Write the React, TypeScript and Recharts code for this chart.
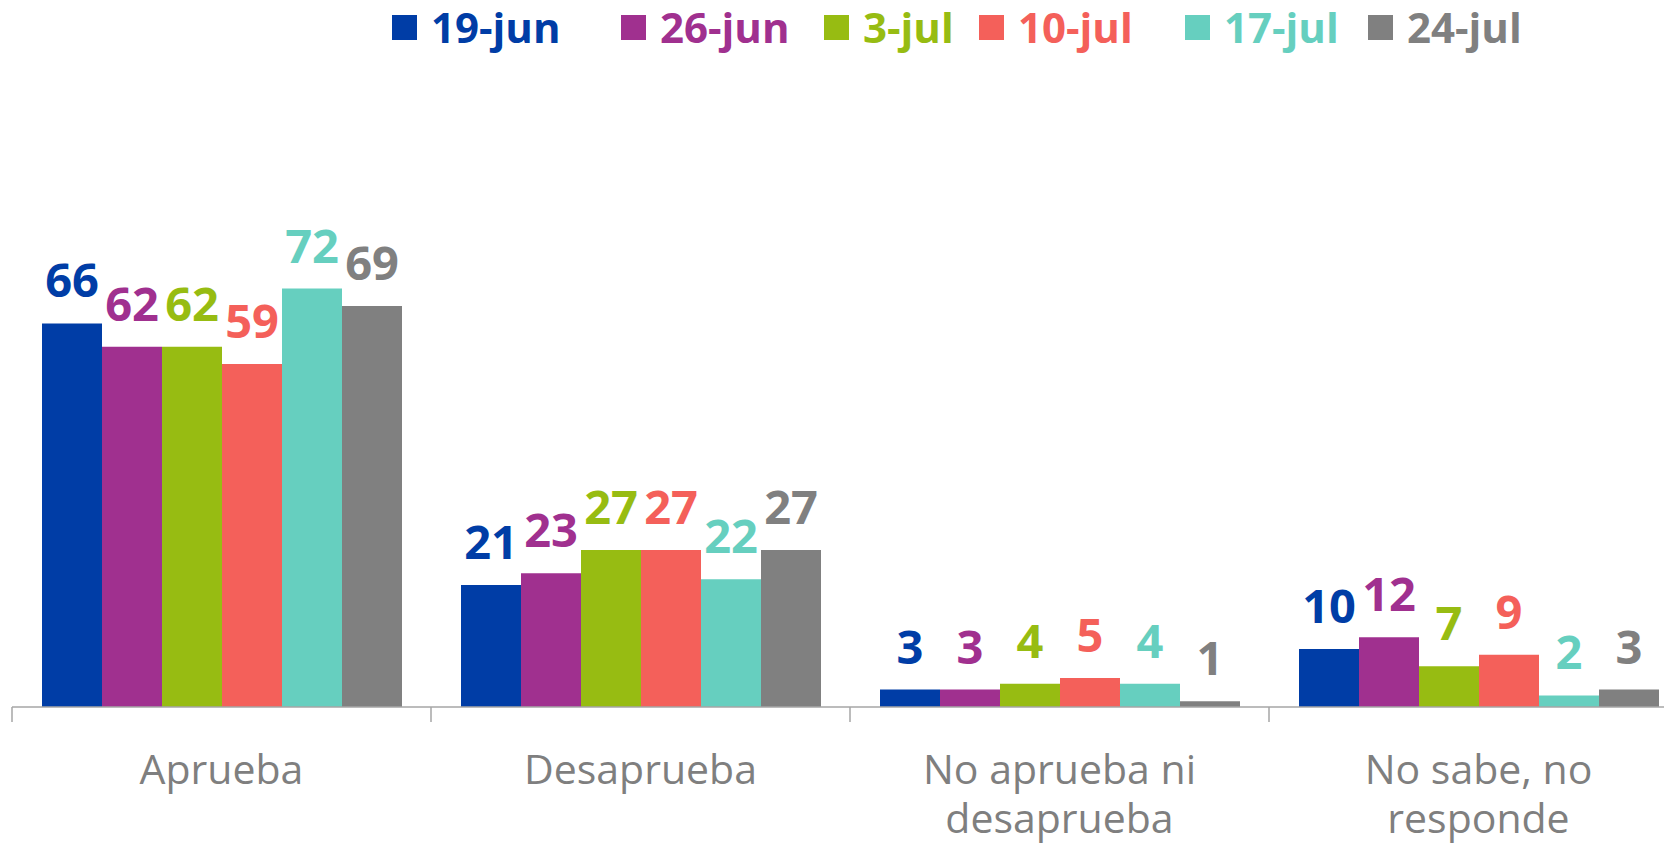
import { BarChart, Bar, XAxis, YAxis, Legend, LabelList } from 'recharts';

const categories = ['Aprueba', 'Desaprueba', 'No aprueba ni desaprueba', 'No sabe, no responde'];
const tickLines = [['Aprueba'], ['Desaprueba'], ['No aprueba ni', 'desaprueba'], ['No sabe, no', 'responde']];

const seriesNames = ['19-jun', '26-jun', '3-jul', '10-jul', '17-jul', '24-jul'];
const jun19 = [66, 21, 3, 10];
const jun26 = [62, 23, 3, 12];
const jul3 = [62, 27, 4, 7];
const jul10 = [59, 27, 5, 9];
const jul17 = [72, 22, 4, 2];
const jul24 = [69, 27, 1, 3];
const seriesValues = [jun19, jun26, jul3, jul10, jul17, jul24];
const colors = ['#003da6', '#a0308f', '#97bc12', '#f4605a', '#66cfbf', '#808080'];

// legend item left edges (px, chart coords) - the original legend isn't evenly spaced
const legendLeft = [384, 613, 816, 971, 1177, 1360];

const data = categories.map((name, i) => {
  const row: Record<string, string | number> = { name };
  seriesNames.forEach((s, j) => { row[s] = seriesValues[j][i]; });
  return row;
});

const FONT = '"Open Sans", sans-serif';
const W = 1684;
const H = 845;
const LEGEND_H = 38;
const M = { top: 234 - LEGEND_H, right: 4, bottom: 6, left: 4 };
const band = (W - M.left - M.right) / categories.length;

const CategoryTick = (props: any) => {
  const { x, y, index } = props;
  const lines = tickLines[index] || [];
  return (
    <g>
      <line x1={x - band / 2} x2={x - band / 2} y1={y} y2={y + 15} stroke="#a6a6a6" strokeWidth={1.5} />
      {index === categories.length - 1 && (
        <line x1={x + band / 2} x2={x + band / 2} y1={y} y2={y + 15} stroke="#a6a6a6" strokeWidth={1.5} />
      )}
      {lines.map((l, k) => (
        <text key={k} x={x} y={y + 77 + k * 49} textAnchor="middle" fill="#7f7f7f" fontFamily={FONT} fontSize={41}>
          {l}
        </text>
      ))}
    </g>
  );
};

const makeLabel = (color: string) => (props: any) => {
  const { x, y, width, value } = props;
  return (
    <text x={x + width / 2} y={y - 26} textAnchor="middle" fill={color}
      fontFamily={FONT} fontWeight={700} fontSize={47}>
      {value}
    </text>
  );
};

const LegendContent = () => (
  <div style={{ position: 'relative', height: LEGEND_H, fontFamily: FONT }}>
    {seriesNames.map((s, i) => (
      <div key={s} style={{
        position: 'absolute', left: legendLeft[i], top: 0, height: LEGEND_H,
        display: 'flex', alignItems: 'center', whiteSpace: 'nowrap',
      }}>
        <span style={{ width: 25, height: 25, background: colors[i], marginRight: 14, display: 'inline-block' }} />
        <span style={{ color: colors[i], fontWeight: 700, fontSize: 42, lineHeight: `${LEGEND_H}px` }}>{s}</span>
      </div>
    ))}
  </div>
);

export default function App() {
  return (
    <div style={{ width: 1664, height: H, overflow: 'hidden' }}>
      <BarChart width={W} height={H} data={data} margin={M} barGap={0} barCategoryGap={30}>
        <XAxis dataKey="name" interval={0} tickSize={0} tickMargin={0} height={140}
          axisLine={{ stroke: '#a6a6a6', strokeWidth: 1.5 }} tick={CategoryTick} />
        <YAxis hide domain={[0, 80]} />
        <Legend verticalAlign="top" align="left" content={LegendContent}
          wrapperStyle={{ top: 0, left: 0, width: W }} />
        {seriesNames.map((s, i) => (
          <Bar key={s} dataKey={s} fill={colors[i]} isAnimationActive={false}>
            <LabelList dataKey={s} content={makeLabel(colors[i])} />
          </Bar>
        ))}
      </BarChart>
    </div>
  );
}
